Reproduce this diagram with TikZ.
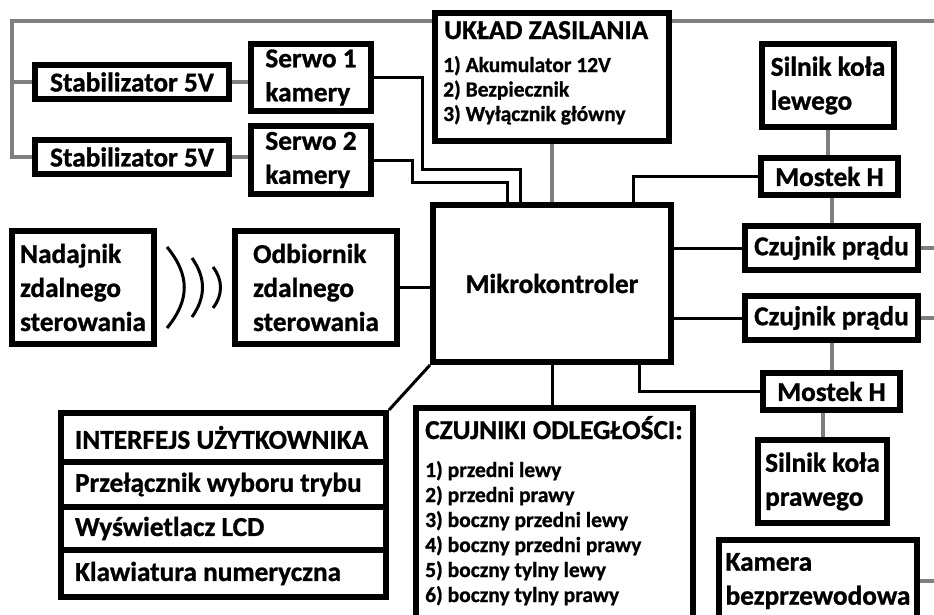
\documentclass[tikz,border=0pt]{standalone}
\usepackage{fontspec}
\setmainfont{Carlito}[BoldFeatures={FakeBold=1}]
\usetikzlibrary{positioning}
\definecolor{pwrgray}{RGB}{127,127,127}
\newcommand{\rowtxt}[1]{\makebox[297pt][l]{#1}}

\begin{document}
\begin{tikzpicture}[x=1pt, y=-1pt,
    box/.style={draw, line width=6pt, rectangle, inner sep=0pt, align=left,
        font=\bfseries\fontsize{27.3}{34}\selectfont},
    head/.style={inner sep=0pt, font=\bfseries\fontsize{27.3}{34}\selectfont},
    small/.style={inner sep=0pt, font=\bfseries\fontsize{21.5}{25}\selectfont},
    uirow/.style={box, inner xsep=14pt},
    pwr/.style={draw=pwrgray, line width=4pt},
    sig/.style={draw, line width=3pt}]
    \useasboundingbox (0,0) rectangle (934,614);
    \clip (0,0) rectangle (934,614);

    % Power and servo blocks
    \node[box, minimum width=194pt, minimum height=34pt] (stab1) at (132,82) {Stabilizator 5V};
    \node[box, minimum width=194pt, minimum height=34pt] (stab2) at (132,157) {Stabilizator 5V};
    \node[box, minimum width=120pt, minimum height=67pt] (serwo1) at (311,77.5) {Serwo 1\\kamery};
    \node[box, minimum width=120pt, minimum height=68pt] (serwo2) at (311,160) {Serwo 2\\kamery};
    \node[box, minimum width=234pt, minimum height=128pt] (zasil) at (552,77) {};
    \node[head, anchor=base west] (zasilT) at (444,39) {UKŁAD ZASILANIA};
    \foreach \entry [count=\i] in {1) Akumulator 12V, 2) Bezpiecznik, 3) Wyłącznik główny}
        \node[small, anchor=base west] (zs\i) at (443,{47.5+24.5*\i}) {\entry};

    % Controller
    \node[box, minimum width=238pt, minimum height=157pt] (mikro) at (552,283.5) {Mikrokontroler};

    % Drive, left and right wheel
    \node[box, minimum width=132pt, minimum height=83pt] (silnikL) at (828,85.5) {Silnik koła\\lewego};
    \node[box, minimum width=137pt, minimum height=37pt] (mostek1) at (829.5,176.5) {Mostek H};
    \node[box, minimum width=173pt, minimum height=44pt] (czuj1) at (831.5,248) {Czujnik prądu};
    \node[box, minimum width=173pt, minimum height=44pt] (czuj2) at (831.5,318) {Czujnik prądu};
    \node[box, minimum width=137pt, minimum height=37pt] (mostek2) at (831.5,391.5) {Mostek H};
    \node[box, minimum width=129pt, minimum height=83pt] (silnikP) at (822.5,481.5) {Silnik koła\\prawego};
    \node[box, minimum width=198pt, minimum height=82pt] (kamera) at (818,581) {Kamera\\bezprzewodowa};

    % Distance sensors
    \node[box, minimum width=277pt, minimum height=240pt] (czujn) at (554.5,528) {};
    \node[head, anchor=base west] (czujnT) at (425,439) {CZUJNIKI ODLEGŁOŚCI:};
    \foreach \entry [count=\i] in {1) przedni lewy, 2) przedni prawy, 3) boczny przedni lewy,
            4) boczny przedni prawy, 5) boczny tylny lewy, 6) boczny tylny prawy}
        \node[small, anchor=base west] (cz\i) at (425,{452+25*\i}) {\entry};

    % User interface
    \node[uirow, minimum height=49pt, anchor=north] (ui1) at (223.5,410) {\rowtxt{INTERFEJS UŻYTKOWNIKA}};
    \node[uirow, minimum height=45pt, below=-6pt of ui1] (ui2) {\rowtxt{Przełącznik wyboru trybu}};
    \node[uirow, minimum height=43pt, below=-6pt of ui2] (ui3) {\rowtxt{Wyświetlacz LCD}};
    \node[uirow, minimum height=47pt, below=-6pt of ui3] (ui4) {\rowtxt{Klawiatura numeryczna}};

    % Remote control
    \node[box, minimum width=142pt, minimum height=113pt] (nad) at (83,287.5) {Nadajnik\\zdalnego\\sterowania};
    \node[box, minimum width=162pt, minimum height=113pt] (odb) at (316,287.5) {Odbiornik\\zdalnego\\sterowania};
    \draw[sig] (167,247) .. controls (190,275) and (190,300) .. (167,328);
    \draw[sig] (192,258) .. controls (206,278) and (206,297) .. (192,317);
    \draw[sig] (213,267) .. controls (223,280) and (223,295) .. (213,308);

    % Supply lines
    \coordinate (pw) at (12,21);
    \coordinate (edge) at (934,21);
    \draw[pwr] (zasil.west |- pw) -- (pw) |- (stab2.west);
    \draw[pwr] (stab1.west) -- (stab1.west -| pw);
    \draw[pwr] (zasil.east |- edge) -- (edge);
    \draw[pwr] (stab1.east) -- (stab1.east -| serwo1.west);
    \draw[pwr] (stab2.east) -- (stab2.east -| serwo2.west);
    \draw[pwr] (zasil.south) -- (mikro.north);
    \draw[pwr] (silnikL.south) -- (silnikL.south |- mostek1.north);
    \draw[pwr] (czuj1.north) -- (czuj1.north |- mostek1.south);
    \draw[pwr] (czuj2.south) -- (czuj2.south |- mostek2.north);
    \draw[pwr] (silnikP.north) -- (silnikP.north |- mostek2.south);
    \draw[pwr] (czuj1.east) -- (czuj1.east -| edge);
    \draw[pwr] (czuj2.east) -- (czuj2.east -| edge);
    \draw[pwr] (kamera.east) -- (kamera.east -| edge);

    % Signal lines
    \coordinate (s1a) at (422,169);
    \coordinate (s1b) at (520,169);
    \coordinate (s2a) at (412,182);
    \coordinate (s2b) at (507,182);
    \coordinate (m1) at (633,0);
    \coordinate (m2) at (639,0);
    \draw[sig] (serwo1.east) -| (s1a) -- (s1b) -- (s1b |- mikro.north);
    \draw[sig] (serwo2.east) -| (s2a) -- (s2b) -- (s2b |- mikro.north);
    \draw[sig] (mostek1.west) -| (m1 |- mikro.north);
    \draw[sig] (czuj1.west) -- (czuj1.west -| mikro.east);
    \draw[sig] (czuj2.west) -- (czuj2.west -| mikro.east);
    \draw[sig] (m2 |- mikro.south) |- (mostek2.west);
    \draw[sig] (mikro.south) -- (mikro.south |- czujn.north);
    \draw[sig] (odb.east) -- (odb.east -| mikro.west);
    \draw[sig] (mikro.south west) -- (ui1.north east);
\end{tikzpicture}
\end{document}
